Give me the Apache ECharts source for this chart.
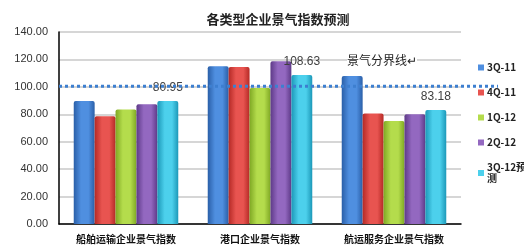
<!DOCTYPE html>
<html>
<head>
<meta charset="utf-8">
<script src="https://cdn.jsdelivr.net/npm/echarts@6/dist/echarts.min.js"></script>
<style>
  html, body { margin: 0; padding: 0; background: #fff; }
  #chart { width: 524px; height: 252px; }
</style>
</head>
<body>
<div id="chart"></div>
<script>
const categories = ['船舶运输企业景气指数', '港口企业景气指数', '航运服务企业景气指数'];
const seriesNames = ['3Q-11', '4Q-11', '1Q-12', '2Q-12', '3Q-12预测'];
const seriesValues = [
  [89.7, 115.0, 108.0],
  [78.5, 114.5, 80.5],
  [83.4, 99.2, 75.1],
  [87.3, 118.7, 80.0],
  [89.7, 108.63, 83.18]
];
const forecastLabels = ['80.95', '108.63', '83.18'];
const boundaryValue = 100.5;
const yTicks = { min: 0, max: 140, interval: 20 };

const colors = [
  ['#2a5fa8', '#4f8fe0'],
  ['#b52a26', '#e85450'],
  ['#7fa824', '#b4dc4c'],
  ['#5e3a88', '#9368c0'],
  ['#1c98b8', '#4cd0ec']
];

function bevel(c) {
  return new echarts.graphic.LinearGradient(0, 0, 1, 0, [
    { offset: 0, color: c[0] },
    { offset: 0.35, color: c[1] },
    { offset: 0.7, color: c[1] },
    { offset: 1, color: c[0] }
  ]);
}

const chart = echarts.init(document.getElementById('chart'), null, { renderer: 'canvas' });

const barSeries = seriesNames.map((name, i) => ({
  name,
  type: 'bar',
  xAxisIndex: 0,
  yAxisIndex: 0,
  barGap: '0%',
  barCategoryGap: '22%',
  itemStyle: { color: bevel(colors[i]), borderRadius: [2, 2, 0, 0] },
  data: seriesValues[i],
  label: i === 4 ? {
    show: true,
    position: 'top',
    distance: 7,
    color: '#404040',
    fontSize: 12,
    fontFamily: 'Liberation Sans',
    formatter: p => forecastLabels[p.dataIndex]
  } : { show: false },
  z: 3
}));

chart.setOption({
  animation: false,
  backgroundColor: '#fff',
  title: {
    text: '各类型企业景气指数预测',
    left: 273,
    textAlign: 'center',
    top: 8,
    textStyle: { fontSize: 13, fontWeight: 'bold', color: '#222', fontFamily: 'Noto Sans CJK SC' }
  },
  legend: {
    orient: 'vertical',
    left: 473,
    top: 57,
    itemWidth: 6,
    itemHeight: 6,
    itemGap: 14,
    icon: 'rect',
    data: seriesNames.map((n, i) => ({ name: n, itemStyle: { color: colors[i][1] } })),
    formatter: n => n === '3Q-12预测' ? '3Q-12预\n测' : n,
    textStyle: { fontSize: 10, fontWeight: 'bold', color: '#222', fontFamily: 'Noto Sans CJK SC', lineHeight: 11, padding: [0, 0, 0, -2] }
  },
  grid: [
    { left: 59, right: 63, top: 32, bottom: 28 },
    { left: 59, right: 26, top: 32, bottom: 28 }
  ],
  xAxis: [
    {
      type: 'category',
      gridIndex: 0,
      data: categories,
      axisLine: { lineStyle: { color: '#000', width: 1.5 } },
      axisTick: { show: false },
      axisLabel: { fontSize: 10, fontWeight: 'bold', color: '#111', margin: 10, fontFamily: 'Noto Sans CJK SC' }
    },
    { type: 'value', gridIndex: 1, min: 0, max: 1, show: false }
  ],
  yAxis: [
    {
      type: 'value',
      gridIndex: 0,
      min: yTicks.min,
      max: yTicks.max,
      interval: yTicks.interval,
      axisLine: { show: true, lineStyle: { color: '#000', width: 1.5 } },
      axisTick: { show: false },
      splitLine: { lineStyle: { color: '#c8c8c8', width: 1.5 } },
      axisLabel: { fontSize: 11, color: '#333', margin: 11, fontFamily: 'Liberation Sans', formatter: v => v.toFixed(2) }
    },
    { type: 'value', gridIndex: 1, min: yTicks.min, max: yTicks.max, show: false }
  ],
  graphic: [{
    type: 'text',
    left: 347,
    top: 54,
    z: 10,
    style: {
      text: '景气分界线↵',
      fontSize: 12,
      fill: '#222',
      fontFamily: 'Noto Sans CJK SC',
      backgroundColor: '#fff'
    }
  }],
  series: barSeries.concat([{
    name: '景气分界线',
    type: 'line',
    xAxisIndex: 1,
    yAxisIndex: 1,
    symbol: 'none',
    silent: true,
    z: 5,
    lineStyle: { color: '#3d7fd0', width: 3, type: [3, 3] },
    data: [[0, boundaryValue], [1, boundaryValue]]
  }])
});
</script>
</body>
</html>
